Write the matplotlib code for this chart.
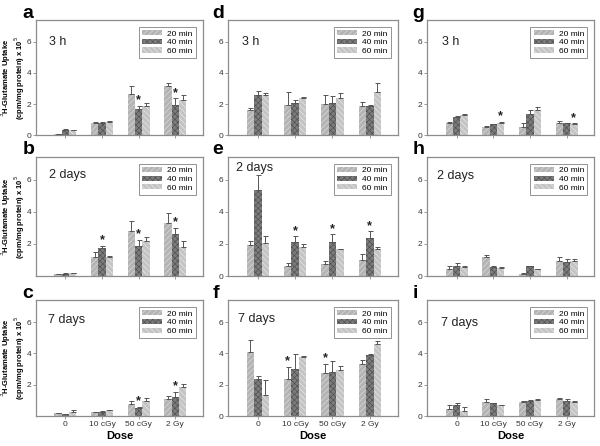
import numpy as np
import matplotlib
matplotlib.use('Agg')
from matplotlib import pyplot as plt

plt.rcParams['font.family'] = ['Liberation Sans', 'DejaVu Sans']
plt.rcParams['hatch.linewidth'] = 0.4

doses = ['0', '10 cGy', '50 cGy', '2 Gy']
series = ['20 min', '40 min', '60 min']
times = ['3 h', '2 days', '7 days']

# mean values, one row per series (20, 40, 60 min), columns = doses
mean_a = [[0.08, 0.78, 2.66, 3.19], [0.35, 0.80, 1.70, 1.91], [0.30, 0.85, 1.85, 2.23]]
err_a = [[0.02, 0.05, 0.50, 0.17], [0.03, 0.05, 0.20, 0.47], [0.03, 0.05, 0.23, 0.32]]
mean_b = [[0.10, 1.21, 2.83, 3.29], [0.15, 1.73, 1.88, 2.60], [0.18, 1.20, 2.15, 1.83]]
err_b = [[0.02, 0.31, 0.61, 0.63], [0.03, 0.15, 0.37, 0.38], [0.03, 0.04, 0.27, 0.36]]
mean_c = [[0.17, 0.26, 0.75, 1.09], [0.13, 0.25, 0.54, 1.22], [0.28, 0.38, 0.96, 1.84]]
err_c = [[0.04, 0.03, 0.21, 0.19], [0.03, 0.05, 0.05, 0.34], [0.10, 0.04, 0.17, 0.19]]
mean_d = [[1.60, 1.97, 2.03, 1.86], [2.61, 2.08, 2.08, 1.90], [2.61, 2.40, 2.40, 2.80]]
err_d = [[0.16, 0.80, 0.54, 0.24], [0.22, 0.17, 0.42, 0.07], [0.11, 0.03, 0.32, 0.58]]
mean_e = [[1.90, 0.60, 0.73, 1.00], [5.33, 2.14, 2.14, 2.36], [2.03, 1.82, 1.67, 1.67]]
err_e = [[0.30, 0.21, 0.23, 0.39], [0.97, 0.32, 0.45, 0.42], [0.49, 0.15, 0.04, 0.11]]
mean_f = [[4.08, 2.37, 2.76, 3.33], [2.39, 3.01, 2.80, 3.87], [1.35, 3.78, 2.97, 4.62]]
err_f = [[0.75, 0.77, 0.59, 0.24], [0.15, 0.96, 0.70, 0.10], [0.98, 0.04, 0.26, 0.17]]
mean_g = [[0.81, 0.53, 0.53, 0.75], [1.18, 0.71, 1.39, 0.75], [1.28, 0.81, 1.60, 0.71]]
err_g = [[0.04, 0.03, 0.26, 0.17], [0.06, 0.03, 0.21, 0.04], [0.05, 0.04, 0.18, 0.04]]
mean_h = [[0.43, 1.17, 0.15, 0.96], [0.64, 0.57, 0.60, 0.90], [0.57, 0.53, 0.43, 0.96]]
err_h = [[0.17, 0.17, 0.02, 0.25], [0.17, 0.03, 0.03, 0.17], [0.03, 0.03, 0.03, 0.11]]
mean_i = [[0.47, 0.90, 0.90, 1.10], [0.73, 0.82, 0.95, 0.95], [0.34, 0.69, 1.05, 0.92]]
err_i = [[0.22, 0.20, 0.04, 0.03], [0.11, 0.03, 0.05, 0.17], [0.24, 0.03, 0.04, 0.04]]

# significance stars: (dose index, series index)
stars_a = [(2, 1), (3, 1)]
stars_b = [(1, 1), (2, 1), (3, 1)]
stars_c = [(2, 1), (3, 1)]
stars_d = []
stars_e = [(1, 1), (2, 1), (3, 1)]
stars_f = [(1, 0), (2, 0)]
stars_g = [(1, 2), (3, 2)]
stars_h = []
stars_i = []

panels = [
    ('a', 0, 0, mean_a, err_a, stars_a),
    ('b', 1, 0, mean_b, err_b, stars_b),
    ('c', 2, 0, mean_c, err_c, stars_c),
    ('d', 0, 1, mean_d, err_d, stars_d),
    ('e', 1, 1, mean_e, err_e, stars_e),
    ('f', 2, 1, mean_f, err_f, stars_f),
    ('g', 0, 2, mean_g, err_g, stars_g),
    ('h', 1, 2, mean_h, err_h, stars_h),
    ('i', 2, 2, mean_i, err_i, stars_i),
]

row_pos = [(0.697, 0.258), (0.381, 0.267), (0.067, 0.260)]
col_pos = [(0.060, 0.278), (0.380, 0.283), (0.712, 0.278)]
title_pos = {'a': (0.08, 0.81), 'b': (0.08, 0.85), 'c': (0.07, 0.83),
             'd': (0.08, 0.81), 'e': (0.05, 0.91), 'f': (0.06, 0.84),
             'g': (0.09, 0.81), 'h': (0.06, 0.84), 'i': (0.08, 0.80)}

colors = ['#b4b4b4', '#7c7c7c', '#c4c4c4']
hatch_col = ['#e2e2e2', '#4a4a4a', '#eeeeee']
hatches = ['//////', 'xxxxxx', '\\\\\\\\\\\\']
spine_col = '#8c8c8c'
w = 0.2
ylab = '$^3$H-Glutamate Uptake\n(cpm/mg protein) x 10$^5$'

fig = plt.figure(figsize=(6, 4.46), dpi=100)

for letter, r, c, mean, err, stars in panels:
    b, h = row_pos[r]
    l, wd = col_pos[c]
    ax = fig.add_axes([l, b, wd, h])
    x = np.arange(len(doses))
    for k in range(3):
        m = np.array(mean[k])
        e = np.array(err[k])
        ax.bar(x + (k - 1) * w, m, w, color=colors[k], edgecolor=hatch_col[k],
               hatch=hatches[k], linewidth=0, label=series[k], zorder=2)
        ax.errorbar(x + (k - 1) * w, m, yerr=[np.zeros_like(e), e], fmt='none',
                    ecolor='#555555', elinewidth=0.7, capsize=1.8, capthick=0.7, zorder=3)
    for di, si in stars:
        top = mean[si][di] + err[si][di]
        ax.text(di + (si - 1) * w, top + 0.35, '*', ha='center', va='center',
                fontsize=9, fontweight='bold', color='#222222')
    ax.set_xlim(-0.8, 3.75)
    ax.set_ylim(0, 7.4)
    ax.set_xticks(x)
    if r == 2:
        ax.set_xticklabels(doses, fontsize=6.5)
        ax.set_xlabel('Dose', fontsize=8, fontweight='bold', labelpad=2)
    else:
        ax.set_xticklabels([])
    if letter in ('b', 'c'):
        ax.set_yticks([2, 4, 6])
    else:
        ax.set_yticks([0, 2, 4, 6])
    ax.tick_params(axis='both', labelsize=6, length=2, width=0.6, color=spine_col,
                   labelcolor='#333333', pad=1.5)
    for s in ax.spines.values():
        s.set_color(spine_col)
        s.set_linewidth(0.9)
    if c == 0:
        fig.text(13 / 600, b + h / 2, ylab, rotation=90, ha='center', va='center',
                 fontsize=5.5, fontweight='bold', linespacing=1.0, multialignment='center')
    tx, ty = title_pos[letter]
    ax.text(tx, ty, times[r], transform=ax.transAxes, fontsize=9,
            ha='left', va='center', color='#222222')
    ax.text(-0.09 if c else -0.08, 1.06, letter, transform=ax.transAxes, fontsize=14,
            fontweight='bold', ha='left', va='center')
    leg = ax.legend(loc='upper right', fontsize=6, frameon=True, fancybox=False,
                    handlelength=2.4, handleheight=0.55, borderpad=0.4,
                    labelspacing=0.15, handletextpad=0.6, borderaxespad=0.8)
    leg.get_frame().set_edgecolor('#777777')
    leg.get_frame().set_linewidth(0.7)

fig.savefig('out.png', dpi=100)
